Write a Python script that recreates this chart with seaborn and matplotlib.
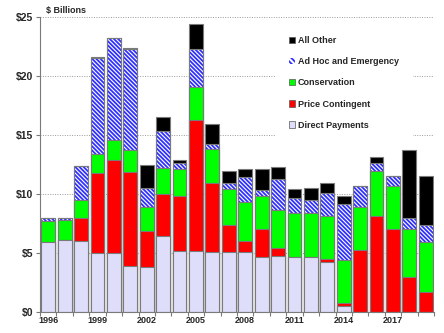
import matplotlib
matplotlib.use("Agg")
import numpy as np
import pandas as pd
import matplotlib.pyplot as plt
from matplotlib.patches import Patch
import seaborn as sns

# Farm program payments by type, $ billions
years = list(range(1996, 2020))
direct_payments = [5.9, 6.1, 6.0, 5.0, 5.0, 3.9, 3.85, 6.4, 5.2, 5.2, 5.05, 5.05,
                   5.05, 4.7, 4.75, 4.7, 4.7, 4.25, 0.5, 0.0, 0.0, 0.0, 0.0, 0.0]
price_contingent = [0.0, 0.0, 2.0, 6.8, 7.9, 8.0, 3.05, 3.6, 4.6, 11.1, 5.85, 2.3,
                    1.0, 2.3, 0.7, 0.0, 0.0, 0.25, 0.3, 5.25, 8.15, 7.0, 3.0, 1.7]
conservation = [1.85, 1.7, 1.5, 1.6, 1.7, 1.85, 2.0, 2.2, 2.3, 2.8, 2.95, 3.1,
                3.25, 2.8, 3.2, 3.65, 3.65, 3.65, 3.6, 3.65, 3.8, 3.7, 4.0, 4.25]
ad_hoc = [0.2, 0.2, 2.9, 8.1, 8.6, 8.55, 1.6, 3.1, 0.55, 3.15, 0.35, 0.45,
          2.1, 0.55, 2.6, 1.35, 1.15, 1.95, 4.75, 1.8, 0.7, 0.85, 1.0, 1.4]
all_other = [0.0, 0.0, 0.0, 0.1, 0.0, 0.1, 2.0, 1.2, 0.25, 2.15, 1.7, 1.05,
             0.75, 1.75, 1.05, 0.7, 1.05, 0.85, 0.65, 0.0, 0.45, 0.0, 5.7, 4.15]

y_ticks = [0, 5, 10, 15, 20, 25]
y_tick_labels = ["\\$0", "\\$5", "\\$10", "\\$15", "\\$20", "\\$25"]

sns.set_theme(style="white")
plt.rcParams["font.family"] = ["Liberation Sans", "DejaVu Sans"]
plt.rcParams["hatch.linewidth"] = 1.3

# stacking order, bottom to top
stack = [
    ("Direct Payments", direct_payments, "#dedefb", None),
    ("Price Contingent", price_contingent, "#ff0000", None),
    ("Conservation", conservation, "#00ff00", None),
    ("Ad Hoc and Emergency", ad_hoc, "#ffffff", "\\" * 8),
    ("All Other", all_other, "#000000", None),
]

df = pd.DataFrame({"year": years})
running = np.zeros(len(years))
for name, vals, _, _ in stack:
    running = running + np.array(vals)
    df[name] = running

fig = plt.figure(figsize=(4.44, 3.33), dpi=100)
ax = fig.add_axes([40 / 444, 1 - 312 / 333, 394 / 444, 295 / 333])

edge = "#7a7a7a"
hatch_blue = "#3030ff"
width = 0.84
# draw cumulative totals from the top layer down so lower layers overlay
for name, vals, color, hatch in reversed(stack):
    if hatch:
        sns.barplot(data=df, x="year", y=name, color=color, saturation=1,
                    width=width, edgecolor=hatch_blue, linewidth=0, hatch=hatch,
                    errorbar=None, ax=ax)
        sns.barplot(data=df, x="year", y=name, color=edge, fill=False,
                    width=width, linewidth=0.8, errorbar=None, ax=ax)
    else:
        sns.barplot(data=df, x="year", y=name, color=color, saturation=1,
                    width=width, edgecolor=edge, linewidth=0.8,
                    errorbar=None, ax=ax)

ax.set_xlim(-0.5, len(years) - 0.5)
ax.set_ylim(0, 25)
ax.set_xlabel("")
ax.set_ylabel("")

ax.yaxis.grid(True, linestyle=(0, (1, 1.5)), color="#9a9a9a", linewidth=0.7)
ax.xaxis.grid(False)
ax.set_axisbelow(True)

ax.set_yticks(y_ticks)
ax.set_yticklabels(y_tick_labels, fontsize=7.5, fontweight="bold")
label_pos = list(range(0, len(years), 3))
ax.set_xticks(label_pos)
ax.set_xticklabels([str(years[i]) for i in label_pos], fontsize=6.5, fontweight="bold")
ax.set_xticks(np.arange(-0.5, len(years), 1), minor=True)
ax.tick_params(axis="x", which="major", length=0, pad=3)
ax.tick_params(axis="x", which="minor", bottom=True, length=3, color=edge, width=0.8)
ax.tick_params(axis="y", left=True, length=3, color=edge, width=0.8, pad=2)

for s in ("top", "right"):
    ax.spines[s].set_visible(False)
for s in ("left", "bottom"):
    ax.spines[s].set_color(edge)
    ax.spines[s].set_linewidth(0.8)

fig.text(46 / 444, 1 - 11 / 333, "\\$ Billions", fontsize=6.5, fontweight="bold",
         va="center", ha="left")

handles = []
for name, vals, color, hatch in reversed(stack):
    if hatch:
        handles.append(Patch(facecolor="white", edgecolor=hatch_blue, hatch="\\" * 6,
                             linewidth=0, label=name))
    else:
        handles.append(Patch(facecolor=color, edgecolor="#555555", linewidth=0.5,
                             label=name))
leg = ax.legend(handles=handles, loc="upper left",
                bbox_to_anchor=(270 / 444, 1 - 17 / 333),
                bbox_transform=fig.transFigure,
                prop={"weight": "bold", "size": 6.5},
                frameon=True, facecolor="white", edgecolor="none", framealpha=1,
                fancybox=False, borderpad=1.6, labelspacing=1.35,
                handlelength=0.7, handleheight=0.7, handletextpad=0.3)

fig.savefig("out.png", dpi=100)
